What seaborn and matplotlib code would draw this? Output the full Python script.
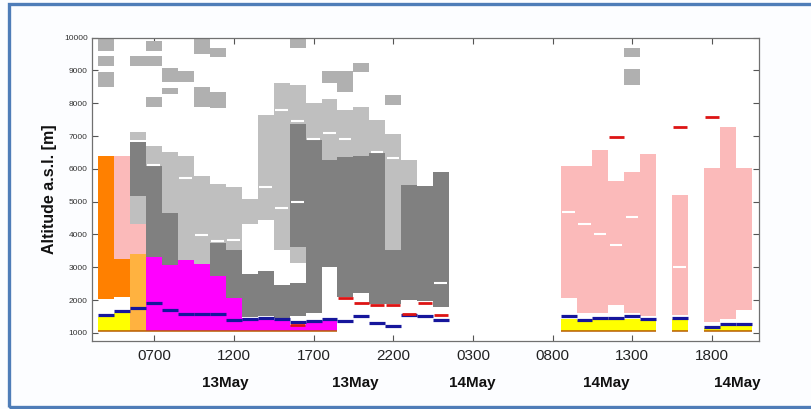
import matplotlib
matplotlib.use("Agg")
import matplotlib.pyplot as plt
from matplotlib.patches import Rectangle
import seaborn as sns

# ---------------- data (hours since 13 May 00:00, altitude in m) ----------------
x_ticks = [7, 12, 17, 22, 27, 32, 37, 42]
x_tick_labels = ["0700", "1200", "1700", "2200", "0300", "0800", "1300", "1800"]
date_label_pos = [11.45, 19.6, 26.95, 35.4, 43.6]
date_labels = ["13May", "13May", "14May", "14May", "14May"]
y_ticks = [1000, 2000, 3000, 4000, 5000, 6000, 7000, 8000, 9000, 10000]

# upper ice blocks
topgrey_hours = [4, 4, 4, 6, 7, 7, 7, 8, 8, 9, 10, 10, 11, 11, 16, 18, 19, 20, 22, 37, 37]
topgrey_bottom = [9600, 9125, 8510, 9125, 9600, 9125, 7900, 8640, 8290, 8640, 9500, 7880,
                  9400, 7860, 9700, 8620, 8340, 8950, 7950, 9400, 8570]
topgrey_top = [10000, 9450, 8965, 9450, 9900, 9450, 8180, 9080, 8480, 8970, 10000, 8490,
               9700, 8340, 10000, 8970, 8970, 9230, 8240, 9700, 9050]

# light grey
lgrey_hours = [6, 6, 7, 8, 9, 10, 11, 12, 13, 14, 15, 16, 16, 17, 18, 19, 20, 21, 22, 23]
lgrey_bottom = [6870, 4310, 6100, 4650, 3220, 3100, 3740, 3520, 4330, 4450, 3520, 7360,
                3120, 6870, 6280, 6360, 6380, 6470, 3520, 5500]
lgrey_top = [7110, 5180, 6700, 6510, 6400, 5780, 5550, 5450, 5070, 7650, 8620, 8560,
             3630, 8020, 8140, 7780, 7890, 7500, 7050, 6280]

# dark grey
dgrey_hours = [6, 7, 8, 11, 12, 13, 14, 15, 16, 16, 17, 18, 19, 20, 21, 22, 23, 24, 25]
dgrey_bottom = [5180, 3300, 3070, 2730, 2050, 1480, 1500, 1450, 3630, 1500, 1600, 3000,
                2100, 2200, 1880, 1880, 2000, 1980, 1800]
dgrey_top = [6820, 6100, 4650, 3740, 3520, 2780, 2900, 2460, 7360, 2510, 6870, 6280,
             6360, 6380, 6470, 3520, 5500, 5490, 5910]

# orange
orange_hours = [4, 5]
orange_bottom = [2030, 2100]
orange_top = [6380, 3250]

# light orange
lorange_hours = [6]
lorange_bottom = [1050]
lorange_top = [3400]

# pink
pink_hours = [5, 6, 33, 34, 35, 36, 37, 38, 40, 42, 43, 44]
pink_bottom = [3250, 3400, 2055, 1600, 1600, 1850, 1600, 1500, 1550, 1340, 1420, 1700]
pink_top = [6380, 4310, 6080, 6080, 6580, 5620, 5900, 6460, 5200, 6040, 7270, 6040]

# magenta
magenta_hours = [7, 8, 9, 10, 11, 12, 13, 14, 15, 16, 17, 18]
magenta_bottom = [1050] * 12
magenta_top = [3300, 3070, 3220, 3100, 2730, 2050, 1450, 1420, 1400, 1250, 1300, 1350]

# yellow
yellow_hours = [4, 5, 33, 34, 35, 36, 37, 38, 40, 42, 43, 44]
yellow_bottom = [1050] * 12
yellow_top = [1490, 1600, 1430, 1400, 1420, 1420, 1430, 1400, 1420, 1150, 1200, 1200]

# line markers
blue_hours = [4, 5, 6, 7, 8, 9, 10, 11, 12, 13, 14, 15, 16, 17, 18, 19, 20, 21, 22, 23, 24, 25,
              33, 34, 35, 36, 37, 38, 40, 42, 43, 44]
blue_alt = [1550, 1670, 1770, 1920, 1690, 1580, 1580, 1580, 1390, 1430, 1450, 1430, 1330,
            1350, 1420, 1365, 1500, 1310, 1220, 1530, 1500, 1380,
            1500, 1400, 1450, 1450, 1500, 1420, 1450, 1190, 1260, 1260]

red_hours = [16, 19, 20, 21, 22, 23, 24, 25, 36, 40, 42]
red_alt = [1250, 2050, 1920, 1860, 1850, 1580, 1920, 1550, 6970, 7270, 7580]

white_hours = [7, 9, 10, 11, 12, 14, 15, 15, 16, 16, 17, 18, 19, 21, 22, 25,
               33, 34, 35, 36, 37, 40]
white_alt = [6110, 5720, 3980, 3810, 3840, 5450, 7800, 4800, 7460, 4980, 6920, 7090,
             6920, 6500, 6330, 2510, 4690, 4310, 4010, 3680, 4520, 3000]

ground_hours = [4, 5, 6, 7, 8, 9, 10, 11, 12, 13, 14, 15, 16, 17, 18,
                33, 34, 35, 36, 37, 38, 40, 42, 43, 44]
ground_alt = [1055] * 25

# ---------------- drawing ----------------
sns.set_theme(style="ticks")
plt.rcParams["font.family"] = ["Liberation Sans", "DejaVu Sans"]

fig = plt.figure(figsize=(8.11, 4.09), dpi=100)
fig.patch.set_facecolor("#fcfdff")
ax = fig.add_axes([92 / 811, 1 - 341 / 409, (759 - 92) / 811, (341 - 37.7) / 409])
ax.set_facecolor("white")

layers = [
    (topgrey_hours, topgrey_bottom, topgrey_top, "#b0b0b0"),
    (lgrey_hours, lgrey_bottom, lgrey_top, "#bfbfbf"),
    (dgrey_hours, dgrey_bottom, dgrey_top, "#808080"),
    (orange_hours, orange_bottom, orange_top, "#ff8000"),
    (lorange_hours, lorange_bottom, lorange_top, "#ffb240"),
    (pink_hours, pink_bottom, pink_top, "#fbbaba"),
    (magenta_hours, magenta_bottom, magenta_top, "#ff00ff"),
    (yellow_hours, yellow_bottom, yellow_top, "#ffff00"),
]
for hrs, bot, top, col in layers:
    heights = [t - b for b, t in zip(bot, top)]
    ax.bar(hrs, heights, bottom=bot, width=1.0, color=col, edgecolor="none",
           linewidth=0, antialiased=False, zorder=2)

ax.hlines(white_alt, [h - 0.42 for h in white_hours], [h + 0.38 for h in white_hours],
          colors="white", linewidth=1.5, zorder=3)
ax.hlines(ground_alt, [h - 0.5 for h in ground_hours], [h + 0.5 for h in ground_hours],
          colors="#b85c00", linewidth=1.1, zorder=3)
ax.hlines(blue_alt, [h - 0.5 for h in blue_hours], [h + 0.5 for h in blue_hours],
          colors="#16169c", linewidth=2.3, zorder=4)
ax.hlines(red_alt, [h - 0.45 for h in red_hours], [h + 0.45 for h in red_hours],
          colors="#dd1414", linewidth=2.0, zorder=5)

ax.set_xlim(3.1, 44.95)
ax.set_ylim(750, 10000)
ax.set_xticks(x_ticks)
ax.set_xticklabels(x_tick_labels)
ax.set_yticks(y_ticks)
ax.set_yticklabels([str(v) for v in y_ticks])
ax.tick_params(axis="x", direction="in", length=4, width=0.8, top=True, bottom=True,
               labelsize=11, pad=6, colors="#555555", labelcolor="#222222")
ax.tick_params(axis="y", direction="in", length=4, width=0.8, left=True, right=True,
               labelsize=6, pad=3, colors="#555555", labelcolor="#333333")
for sp in ax.spines.values():
    sp.set_visible(True)
    sp.set_color("#707070")
    sp.set_linewidth(0.9)

ax.set_ylabel("Altitude a.s.l. [m]", fontsize=11.5, fontweight="bold", labelpad=5,
              color="#111111")

for xp, lab in zip(date_label_pos, date_labels):
    ax.text(xp, -0.138, lab, transform=ax.get_xaxis_transform(), ha="center",
            va="center", fontsize=11, fontweight="bold", color="#111111")

# outer blue frame
fig.patches.append(Rectangle((8.5 / 811, 2.5 / 409), 820 / 811, (405.5 - 2.5) / 409,
                             transform=fig.transFigure, fill=False,
                             edgecolor="#4f7db8", linewidth=2.4, zorder=10))

fig.savefig("out.png", dpi=100)
